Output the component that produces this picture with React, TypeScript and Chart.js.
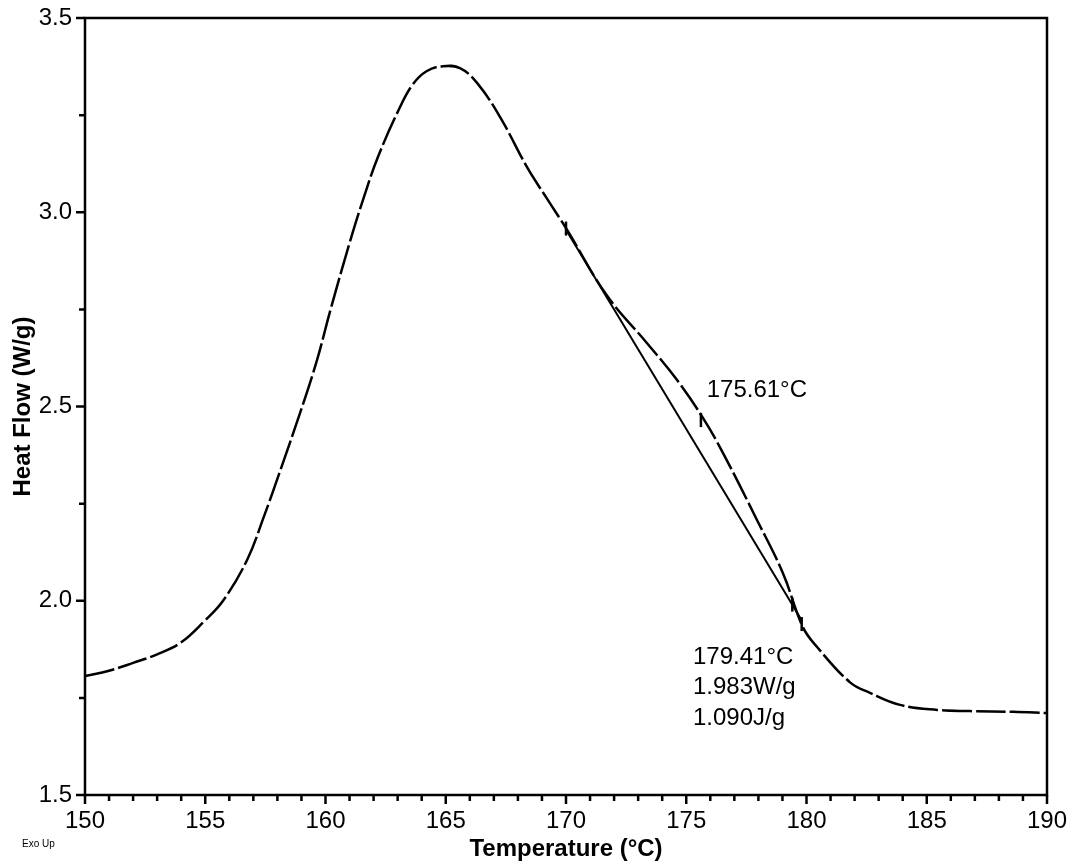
import React, { useEffect, useRef } from "react";
import { Chart, registerables } from "chart.js";

Chart.register(...registerables);

const temps = [150, 151, 152, 153, 154, 155, 155.74, 156.74, 157.4, 158.23, 158.94, 159.65, 160.19, 161.02, 161.56, 162.18, 163.1, 163.64, 164.2, 164.89, 165.59, 166.3, 167.26, 168.38, 169.21, 170.04, 171.71, 173.37, 174.62, 175.7, 176.53, 177.94, 179.02, 179.85, 180.44, 181.81, 182.64, 183.89, 185.43, 186.8, 188.59, 190];
const heatFlow = [1.806, 1.82, 1.84, 1.862, 1.893, 1.95, 2.0, 2.105, 2.21, 2.355, 2.483, 2.62, 2.745, 2.925, 3.032, 3.142, 3.271, 3.33, 3.363, 3.376, 3.371, 3.333, 3.245, 3.116, 3.035, 2.955, 2.785, 2.663, 2.568, 2.47, 2.38, 2.208, 2.071, 1.932, 1.881, 1.79, 1.763, 1.732, 1.719, 1.716, 1.714, 1.711];

const baselineT = [170, 179.8];
const baselineHF = [2.955, 1.95];

const markerT = [170, 175.61, 179.41, 179.8];
const markerHF = [2.958, 2.465, 1.99, 1.94];

const xMajorTicks = [150, 155, 160, 165, 170, 175, 180, 185, 190];
const xMinorTicks = [151, 152, 153, 154, 156, 157, 158, 159, 161, 162, 163, 164, 166, 167, 168, 169, 171, 172, 173, 174, 176, 177, 178, 179, 181, 182, 183, 184, 186, 187, 188, 189];
const yMajorTicks = [1.5, 2.0, 2.5, 3.0, 3.5];
const yMinorTicks = [1.75, 2.25, 2.75, 3.25];

const peakLabel = ["175.61°C"];
const peakLabelPos = [175.85, 2.542];
const areaLabel = ["179.41°C", "1.983W/g", "1.090J/g"];
const areaLabelPos = [175.28, 1.855];
const cornerNote = "Exo Up";

const FONT = "'Liberation Sans', Arial, sans-serif";

const overlayPlugin = {
  id: "overlay",
  afterDraw(chart: any) {
    const { ctx, chartArea } = chart;
    const xs = chart.scales.x;
    const ys = chart.scales.y;
    ctx.save();
    ctx.strokeStyle = "#000";
    ctx.fillStyle = "#000";
    ctx.lineWidth = 2.5;
    ctx.strokeRect(chartArea.left, chartArea.top, chartArea.right - chartArea.left, chartArea.bottom - chartArea.top);
    ctx.beginPath();
    for (const v of xMajorTicks) {
      const px = xs.getPixelForValue(v);
      ctx.moveTo(px, chartArea.bottom);
      ctx.lineTo(px, chartArea.bottom + 9);
    }
    for (const v of xMinorTicks) {
      const px = xs.getPixelForValue(v);
      ctx.moveTo(px, chartArea.bottom);
      ctx.lineTo(px, chartArea.bottom + 6);
    }
    for (const v of yMajorTicks) {
      const py = ys.getPixelForValue(v);
      ctx.moveTo(chartArea.left, py);
      ctx.lineTo(chartArea.left - 9, py);
    }
    for (const v of yMinorTicks) {
      const py = ys.getPixelForValue(v);
      ctx.moveTo(chartArea.left, py);
      ctx.lineTo(chartArea.left - 6, py);
    }
    ctx.stroke();

    ctx.font = `24px ${FONT}`;
    ctx.textAlign = "left";
    ctx.textBaseline = "middle";
    const p1x = xs.getPixelForValue(peakLabelPos[0]);
    const p1y = ys.getPixelForValue(peakLabelPos[1]);
    peakLabel.forEach((t, i) => ctx.fillText(t, p1x, p1y + i * 30.5));
    const p2x = xs.getPixelForValue(areaLabelPos[0]);
    const p2y = ys.getPixelForValue(areaLabelPos[1]);
    areaLabel.forEach((t, i) => ctx.fillText(t, p2x, p2y + i * 30.5));

    ctx.font = `10px ${FONT}`;
    ctx.fillText(cornerNote, 22, 844);
    ctx.restore();
  },
};

export default function App() {
  const ref = useRef<HTMLCanvasElement>(null);
  useEffect(() => {
    if (!ref.current) return;
    const chart = new Chart(ref.current, {
      type: "line",
      data: {
        datasets: [
          {
            data: temps.map((t, i) => ({ x: t, y: heatFlow[i] })),
            borderColor: "#000",
            borderWidth: 2.5,
            borderDash: [30, 4],
            pointRadius: 0,
            tension: 0.4,
            fill: false,
          },
          {
            data: baselineT.map((t, i) => ({ x: t, y: baselineHF[i] })),
            borderColor: "#000",
            borderWidth: 2,
            pointRadius: 0,
            fill: false,
          },
          {
            data: markerT.map((t, i) => ({ x: t, y: markerHF[i] })),
            showLine: false,
            pointStyle: "line",
            rotation: 90,
            pointRadius: 7,
            pointBorderWidth: 2.5,
            pointBorderColor: "#000",
            borderColor: "#000",
          },
        ],
      },
      options: {
        animation: false,
        responsive: false,
        layout: { padding: { left: 0, right: 30, top: 18, bottom: 0 } },
        plugins: { legend: { display: false }, tooltip: { enabled: false } },
        scales: {
          x: {
            type: "linear",
            min: 150,
            max: 190,
            grid: { display: false, drawTicks: false },
            border: { display: false },
            ticks: {
              stepSize: 5,
              padding: 12,
              color: "#000",
              font: { family: FONT, size: 24 },
              maxRotation: 0,
            },
            title: {
              display: true,
              text: "Temperature (°C)",
              color: "#000",
              font: { family: FONT, size: 24, weight: "bold" },
              padding: { top: 0, bottom: 3 },
            },
            afterFit(scale: any) {
              scale.height = 72;
              scale.paddingLeft = 0;
              scale.paddingRight = 0;
            },
          },
          y: {
            min: 1.5,
            max: 3.5,
            grid: { display: false, drawTicks: false },
            border: { display: false },
            ticks: {
              stepSize: 0.5,
              padding: 13,
              color: "#000",
              font: { family: FONT, size: 24 },
              callback: (v: any) => Number(v).toFixed(1),
            },
            title: {
              display: true,
              text: "Heat Flow (W/g)",
              color: "#000",
              font: { family: FONT, size: 24, weight: "bold" },
              padding: { top: 9, bottom: 0 },
            },
            afterFit(scale: any) {
              scale.width = 85;
              scale.paddingTop = 0;
              scale.paddingBottom = 0;
            },
          },
        },
      },
      plugins: [overlayPlugin],
    });
    return () => chart.destroy();
  }, []);
  return (
    <div style={{ position: "absolute", left: 0, top: 0, width: 1077, height: 867, background: "#fff" }}>
      <canvas ref={ref} width={1077} height={867} style={{ display: "block" }} />
    </div>
  );
}
